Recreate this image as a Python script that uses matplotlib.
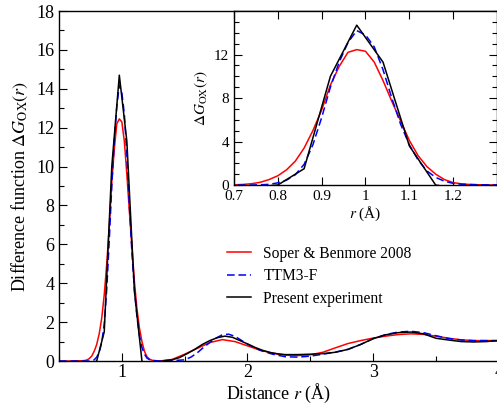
import numpy as np
import matplotlib
matplotlib.use('Agg')
import matplotlib.pyplot as plt
from matplotlib.ticker import MultipleLocator

plt.rcParams['font.family'] = ['Liberation Serif', 'DejaVu Serif']
plt.rcParams['mathtext.fontset'] = 'stix'

# Soper & Benmore 2008
red_r = [0.50, 0.60, 0.66, 0.70, 0.72, 0.74, 0.76, 0.78, 0.80, 0.82, 0.84, 0.86,
         0.88, 0.90, 0.92, 0.94, 0.96, 0.98, 1.00, 1.02, 1.04, 1.06, 1.08, 1.10,
         1.12, 1.14, 1.16, 1.18, 1.20, 1.22, 1.24, 1.26, 1.30, 1.40, 1.50, 1.60,
         1.70, 1.80, 1.90, 2.00, 2.10, 2.20, 2.30, 2.40, 2.50, 2.60, 2.70, 2.80,
         2.90, 3.00, 3.10, 3.20, 3.30, 3.40, 3.50, 3.60, 3.70, 3.80, 3.90, 4.00]
red_g = [0.0, 0.0, 0.01, 0.02, 0.05, 0.12, 0.25, 0.5, 0.85, 1.4, 2.2, 3.4,
         5.0, 6.9, 9.2, 10.9, 12.2, 12.45, 12.3, 11.3, 9.6, 7.7, 5.9, 4.1,
         2.7, 1.7, 1.0, 0.5, 0.22, 0.1, 0.04, 0.02, 0.0, 0.08, 0.35, 0.65,
         0.95, 1.1, 1.0, 0.78, 0.56, 0.4, 0.3, 0.28, 0.32, 0.45, 0.68, 0.9,
         1.05, 1.18, 1.28, 1.36, 1.4, 1.37, 1.28, 1.17, 1.09, 1.05, 1.05, 1.05]

# TTM3-F
blue_r = [0.50, 0.70, 0.74, 0.76, 0.78, 0.80, 0.82, 0.84, 0.86, 0.88, 0.90, 0.92,
          0.94, 0.96, 0.98, 1.00, 1.02, 1.04, 1.06, 1.08, 1.10, 1.12, 1.14, 1.16,
          1.18, 1.20, 1.22, 1.26, 1.30, 1.40, 1.50, 1.55, 1.60, 1.65, 1.70, 1.75,
          1.80, 1.85, 1.90, 1.95, 2.00, 2.10, 2.20, 2.30, 2.40, 2.50, 2.60, 2.70,
          2.80, 2.90, 3.00, 3.10, 3.20, 3.30, 3.40, 3.50, 3.60, 3.70, 3.80, 3.90, 4.00]
blue_g = [0.0, 0.0, 0.0, 0.02, 0.06, 0.2, 0.45, 0.95, 1.9, 3.7, 6.2, 9.0,
          11.3, 13.1, 14.2, 13.8, 12.7, 10.6, 8.0, 5.6, 3.7, 2.3, 1.3, 0.7,
          0.35, 0.15, 0.07, 0.02, 0.0, 0.02, 0.06, 0.2, 0.42, 0.7, 0.95, 1.18,
          1.35, 1.38, 1.27, 1.07, 0.87, 0.55, 0.35, 0.22, 0.2, 0.25, 0.35, 0.46,
          0.6, 0.85, 1.15, 1.36, 1.49, 1.53, 1.46, 1.3, 1.16, 1.08, 1.05, 1.05, 1.05]

# Present experiment
black_r = [0.50, 0.74, 0.80, 0.86, 0.92, 0.98, 1.04, 1.10, 1.16, 1.22, 1.28, 1.34,
           1.40, 1.46, 1.52, 1.58, 1.64, 1.70, 1.76, 1.82, 1.88, 1.94, 2.00, 2.06,
           2.12, 2.18, 2.24, 2.30, 2.40, 2.50, 2.60, 2.70, 2.80, 2.90, 3.00, 3.10,
           3.20, 3.30, 3.40, 3.50, 3.60, 3.70, 3.80, 3.90, 4.00]
black_g = [-0.2, -0.2, 0.0, 1.5, 10.0, 14.7, 11.3, 3.6, 0.0, -0.4, -0.1, 0.02,
           0.06, 0.18, 0.38, 0.6, 0.85, 1.05, 1.2, 1.28, 1.22, 1.05, 0.88, 0.7,
           0.55, 0.44, 0.37, 0.33, 0.33, 0.35, 0.38, 0.45, 0.6, 0.85, 1.15, 1.35,
           1.46, 1.49, 1.4, 1.17, 1.08, 1.0, 0.98, 1.0, 1.05]

labels = ['Soper & Benmore 2008', 'TTM3-F', 'Present experiment']


def drawCurves(ax):
    ax.plot(red_r, red_g, color='#ff0000', lw=1.1, label=labels[0])
    ax.plot(blue_r, blue_g, color='#0000ff', lw=1.1, dashes=(5, 2.5), label=labels[1])
    ax.plot(black_r, black_g, color='black', lw=1.1, label=labels[2])


def styleTicks(ax, size):
    ax.tick_params(which='major', direction='in', length=5.8, width=0.8, labelsize=size)
    ax.tick_params(which='minor', direction='in', length=3.5, width=0.8)


fig = plt.figure(figsize=(4.97, 4.05), dpi=100)

ax = fig.add_axes([0.1187, 0.1086, 0.885, 0.8642])
drawCurves(ax)
ax.set_xlim(0.5, 4.0)
ax.set_ylim(0, 18)
ax.xaxis.set_major_locator(MultipleLocator(1))
ax.xaxis.set_minor_locator(MultipleLocator(0.5))
ax.yaxis.set_major_locator(MultipleLocator(2))
ax.yaxis.set_minor_locator(MultipleLocator(1))
styleTicks(ax, 13)
ax.tick_params(axis='x', pad=2.5)
ax.set_xlabel(r'Distance $r$ (Å)', fontsize=13, labelpad=0)
ax.set_ylabel(r'Difference function $\Delta G_{\rm OX}(r)$', fontsize=13, labelpad=4)
ax.legend(loc='upper left', bbox_to_anchor=(0.383, 0.33), frameon=False,
          fontsize=11.2, handlelength=1.5, handletextpad=0.8, labelspacing=0.42,
          borderpad=0, borderaxespad=0)

ins = fig.add_axes([0.4708, 0.5432, 0.5292, 0.4296])
drawCurves(ins)
ins.set_xlim(0.7, 1.3)
ins.set_ylim(0, 16)
ins.xaxis.set_major_locator(MultipleLocator(0.1))
ins.yaxis.set_major_locator(MultipleLocator(4))
ins.yaxis.set_minor_locator(MultipleLocator(1))
styleTicks(ins, 11)
ins.tick_params(which='both', top=True, right=True)
ins.set_xticks([0.7, 0.8, 0.9, 1.0, 1.1, 1.2])
ins.set_xticklabels(['0.7', '0.8', '0.9', '1', '1.1', '1.2'])
ins.set_yticks([0, 4, 8, 12])
ins.set_xlabel(r'$r$ (Å)', fontsize=11, labelpad=1)
ins.set_ylabel(r'$\Delta G_{\rm OX}(r)$', fontsize=11, labelpad=3)

for a in (ax, ins):
    for s in a.spines.values():
        s.set_linewidth(1.0)

fig.savefig('out.png', dpi=100)
